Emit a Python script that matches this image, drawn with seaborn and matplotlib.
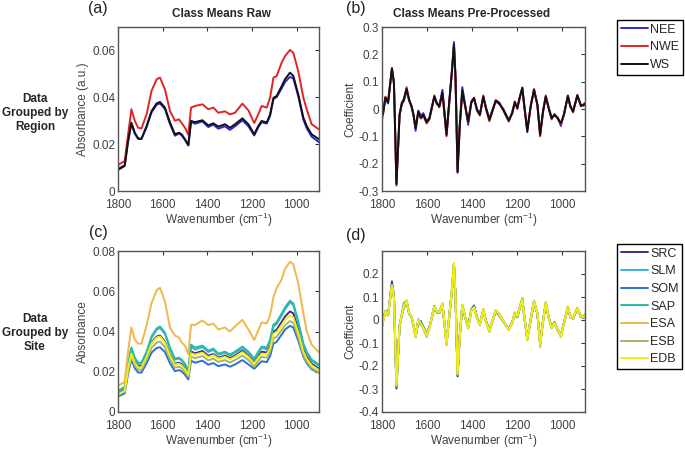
import matplotlib
matplotlib.use('Agg')
import matplotlib.pyplot as plt
import pandas as pd
import seaborn as sns

# ---- raw spectra (panels a, c) ----
wn_raw = [1800, 1770, 1755, 1740, 1725, 1710, 1695, 1672, 1650, 1627,
          1612, 1590, 1567, 1545, 1527, 1515, 1500, 1485, 1473, 1455,
          1422, 1396, 1373, 1351, 1321, 1299, 1276, 1243, 1216, 1190,
          1172, 1157, 1134, 1119, 1104, 1090, 1067, 1052, 1030, 1015,
          993, 970, 955, 933, 900]

raw_nee = [0.0095, 0.0110, 0.0210, 0.0288, 0.0245, 0.0222, 0.0222, 0.0272, 0.0335, 0.0368,
           0.0374, 0.0350, 0.0285, 0.0236, 0.0245, 0.0238, 0.0218, 0.0194, 0.0296, 0.0287,
           0.0297, 0.0273, 0.0283, 0.0266, 0.0276, 0.0261, 0.0276, 0.0302, 0.0276, 0.0237,
           0.0272, 0.0293, 0.0288, 0.0320, 0.0392, 0.0400, 0.0438, 0.0465, 0.0487, 0.0480,
           0.0405, 0.0305, 0.0268, 0.0232, 0.0208]
raw_nwe = [0.0111, 0.0128, 0.0240, 0.0349, 0.0300, 0.0270, 0.0267, 0.0327, 0.0427, 0.0477,
           0.0484, 0.0434, 0.0341, 0.0300, 0.0306, 0.0290, 0.0270, 0.0240, 0.0356, 0.0363,
           0.0370, 0.0349, 0.0356, 0.0334, 0.0340, 0.0327, 0.0334, 0.0373, 0.0344, 0.0290,
           0.0327, 0.0363, 0.0356, 0.0398, 0.0484, 0.0490, 0.0548, 0.0576, 0.0602, 0.0590,
           0.0512, 0.0398, 0.0349, 0.0285, 0.0263]
raw_ws = [0.0090, 0.0107, 0.0213, 0.0292, 0.0249, 0.0225, 0.0223, 0.0277, 0.0341, 0.0374,
          0.0380, 0.0356, 0.0292, 0.0242, 0.0249, 0.0242, 0.0221, 0.0196, 0.0299, 0.0294,
          0.0302, 0.0280, 0.0289, 0.0275, 0.0285, 0.0270, 0.0285, 0.0310, 0.0285, 0.0242,
          0.0277, 0.0299, 0.0292, 0.0327, 0.0398, 0.0405, 0.0448, 0.0477, 0.0505, 0.0491,
          0.0413, 0.0313, 0.0277, 0.0242, 0.0221]

raw_src = [0.0092, 0.0110, 0.0220, 0.0300, 0.0250, 0.0228, 0.0228, 0.0280, 0.0345, 0.0375,
           0.0380, 0.0350, 0.0285, 0.0240, 0.0245, 0.0238, 0.0218, 0.0190, 0.0300, 0.0292,
           0.0303, 0.0280, 0.0288, 0.0270, 0.0280, 0.0268, 0.0280, 0.0305, 0.0280, 0.0245,
           0.0278, 0.0300, 0.0295, 0.0328, 0.0400, 0.0408, 0.0448, 0.0475, 0.0500, 0.0490,
           0.0410, 0.0310, 0.0275, 0.0240, 0.0215]
raw_slm = [0.0098, 0.0118, 0.0235, 0.0315, 0.0265, 0.0240, 0.0240, 0.0295, 0.0368, 0.0408,
           0.0418, 0.0388, 0.0315, 0.0260, 0.0265, 0.0255, 0.0235, 0.0200, 0.0325, 0.0310,
           0.0322, 0.0298, 0.0308, 0.0284, 0.0294, 0.0280, 0.0294, 0.0318, 0.0294, 0.0260,
           0.0294, 0.0318, 0.0312, 0.0352, 0.0425, 0.0436, 0.0480, 0.0510, 0.0545, 0.0532,
           0.0442, 0.0335, 0.0295, 0.0255, 0.0230]
raw_som = [0.0078, 0.0092, 0.0190, 0.0262, 0.0218, 0.0196, 0.0196, 0.0242, 0.0295, 0.0318,
           0.0322, 0.0298, 0.0242, 0.0203, 0.0208, 0.0202, 0.0185, 0.0162, 0.0255, 0.0245,
           0.0255, 0.0235, 0.0243, 0.0228, 0.0236, 0.0225, 0.0236, 0.0258, 0.0236, 0.0215,
           0.0235, 0.0252, 0.0248, 0.0278, 0.0340, 0.0348, 0.0385, 0.0410, 0.0428, 0.0420,
           0.0355, 0.0275, 0.0243, 0.0212, 0.0195]
raw_sap = [0.0105, 0.0125, 0.0240, 0.0320, 0.0270, 0.0245, 0.0245, 0.0300, 0.0375, 0.0415,
           0.0425, 0.0395, 0.0320, 0.0265, 0.0270, 0.0260, 0.0240, 0.0205, 0.0335, 0.0320,
           0.0330, 0.0305, 0.0315, 0.0290, 0.0300, 0.0285, 0.0300, 0.0325, 0.0300, 0.0265,
           0.0300, 0.0325, 0.0320, 0.0360, 0.0435, 0.0445, 0.0490, 0.0520, 0.0553, 0.0540,
           0.0450, 0.0340, 0.0300, 0.0260, 0.0235]
raw_esa = [0.0131, 0.0150, 0.0300, 0.0420, 0.0360, 0.0340, 0.0340, 0.0430, 0.0540, 0.0605,
           0.0617, 0.0550, 0.0418, 0.0380, 0.0370, 0.0345, 0.0330, 0.0288, 0.0434, 0.0432,
           0.0455, 0.0432, 0.0439, 0.0410, 0.0420, 0.0400, 0.0425, 0.0458, 0.0410, 0.0358,
           0.0405, 0.0445, 0.0440, 0.0480, 0.0570, 0.0615, 0.0660, 0.0712, 0.0747, 0.0734,
           0.0640, 0.0490, 0.0402, 0.0335, 0.0296]
raw_esb = [0.0085, 0.0100, 0.0205, 0.0275, 0.0232, 0.0210, 0.0210, 0.0260, 0.0318, 0.0345,
           0.0350, 0.0322, 0.0262, 0.0220, 0.0225, 0.0218, 0.0200, 0.0175, 0.0275, 0.0268,
           0.0278, 0.0257, 0.0265, 0.0249, 0.0258, 0.0246, 0.0258, 0.0280, 0.0258, 0.0225,
           0.0254, 0.0274, 0.0270, 0.0300, 0.0366, 0.0373, 0.0408, 0.0432, 0.0452, 0.0443,
           0.0372, 0.0283, 0.0250, 0.0218, 0.0196]
raw_edb = [0.0088, 0.0105, 0.0215, 0.0290, 0.0245, 0.0222, 0.0222, 0.0275, 0.0340, 0.0370,
           0.0375, 0.0345, 0.0280, 0.0235, 0.0240, 0.0232, 0.0212, 0.0185, 0.0292, 0.0285,
           0.0295, 0.0273, 0.0282, 0.0265, 0.0274, 0.0262, 0.0274, 0.0298, 0.0274, 0.0240,
           0.0270, 0.0290, 0.0287, 0.0318, 0.0388, 0.0396, 0.0432, 0.0458, 0.0480, 0.0470,
           0.0395, 0.0300, 0.0265, 0.0232, 0.0208]

# ---- pre-processed spectra (panels b, d) ----
wn_pre = [1800, 1796, 1785, 1773, 1756, 1747, 1736, 1722, 1712, 1703,
          1691, 1680, 1669, 1661, 1651, 1639, 1628, 1617, 1602, 1590,
          1578, 1568, 1557, 1546, 1532, 1514, 1499, 1490, 1481, 1474,
          1465, 1455, 1444, 1432, 1418, 1404, 1392, 1379, 1366, 1351,
          1339, 1324, 1309, 1296, 1280, 1262, 1238, 1223, 1211, 1200,
          1190, 1178, 1168, 1156, 1141, 1126, 1111, 1099, 1086, 1074,
          1059, 1048, 1035, 1021, 1007, 993, 976, 965, 953, 934,
          918, 906, 900]

pre_nee = [-0.010, -0.018, 0.038, 0.020, 0.150, 0.097, -0.270, -0.022, 0.018, 0.030,
           0.070, 0.030, 0.012, -0.016, -0.080, -0.006, -0.025, -0.015, -0.045, -0.032,
           0.012, 0.043, 0.018, 0.012, 0.070, -0.090, 0.055, 0.142, 0.245, 0.118,
           -0.233, -0.052, 0.080, 0.018, -0.058, 0.022, 0.038, 0.000, -0.018, 0.043,
           0.006, -0.036, 0.000, 0.028, 0.018, 0.000, -0.040, -0.018, 0.022, 0.006,
           0.038, 0.079, 0.006, -0.085, 0.012, 0.068, 0.018, -0.090, -0.006, 0.043,
           0.000, -0.030, -0.024, -0.030, -0.062, -0.016, 0.045, 0.008, -0.008, 0.047,
           0.014, 0.012, 0.018]
pre_nwe = [-0.040, -0.022, 0.045, 0.028, 0.145, 0.090, -0.280, -0.018, 0.024, 0.038,
           0.080, 0.036, 0.006, -0.022, -0.065, -0.012, -0.035, -0.025, -0.053, -0.038,
           0.006, 0.050, 0.024, 0.006, 0.058, -0.100, 0.048, 0.135, 0.232, 0.110,
           -0.226, -0.062, 0.060, 0.012, -0.048, 0.028, 0.042, -0.006, -0.024, 0.050,
           0.000, -0.045, -0.006, 0.033, 0.024, -0.006, -0.046, -0.012, 0.028, 0.000,
           0.042, 0.075, 0.000, -0.076, 0.006, 0.073, 0.012, -0.100, -0.012, 0.050,
           -0.006, -0.038, -0.018, -0.036, -0.055, -0.022, 0.050, 0.012, -0.012, 0.052,
           0.010, 0.018, 0.022]
pre_ws = [-0.015, -0.020, 0.042, 0.025, 0.148, 0.095, -0.275, -0.020, 0.021, 0.034,
          0.074, 0.034, 0.009, -0.019, -0.070, -0.009, -0.032, -0.022, -0.048, -0.035,
          0.009, 0.046, 0.021, 0.009, 0.060, -0.095, 0.052, 0.138, 0.236, 0.113,
          -0.230, -0.058, 0.068, 0.015, -0.046, 0.025, 0.040, -0.003, -0.021, 0.046,
          0.003, -0.040, -0.003, 0.030, 0.021, -0.003, -0.043, -0.015, 0.025, 0.003,
          0.040, 0.077, 0.003, -0.080, 0.009, 0.071, 0.015, -0.095, -0.009, 0.046,
          -0.003, -0.034, -0.021, -0.034, -0.052, -0.019, 0.048, 0.010, -0.010, 0.050,
          0.012, 0.015, 0.020]

pre_src = [-0.030, -0.005, 0.035, 0.020, 0.168, 0.105, -0.298, -0.025, 0.020, 0.055,
           0.080, 0.028, 0.012, -0.022, -0.070, -0.010, -0.020, -0.030, -0.062, -0.030,
           0.012, 0.055, 0.033, 0.030, 0.068, -0.100, 0.040, 0.128, 0.240, 0.098,
           -0.245, -0.066, 0.062, 0.012, -0.030, 0.045, 0.063, 0.012, -0.016, 0.040,
           -0.003, -0.045, -0.002, 0.036, 0.020, -0.008, -0.038, -0.010, 0.026, 0.012,
           0.048, 0.086, 0.006, -0.080, -0.002, 0.076, 0.026, -0.100, -0.003, 0.070,
           0.004, -0.030, -0.010, -0.045, -0.066, -0.010, 0.052, 0.014, 0.006, 0.048,
           0.013, 0.010, 0.020]
pre_slm = [0.010, 0.000, 0.040, 0.025, 0.155, 0.098, -0.285, -0.024, 0.028, 0.075,
           0.082, 0.032, 0.014, -0.018, -0.070, 0.003, -0.013, -0.030, -0.064, -0.032,
           0.018, 0.062, 0.040, 0.035, 0.070, -0.102, 0.046, 0.128, 0.243, 0.098,
           -0.238, -0.068, 0.064, 0.018, -0.032, 0.043, 0.058, 0.011, -0.018, 0.046,
           -0.004, -0.047, 0.003, 0.042, 0.025, -0.004, -0.039, -0.011, 0.032, 0.018,
           0.054, 0.095, 0.011, -0.082, 0.003, 0.082, 0.032, -0.104, -0.004, 0.075,
           0.003, -0.032, -0.011, -0.039, -0.068, -0.011, 0.058, 0.018, 0.011, 0.053,
           0.018, 0.015, 0.025]
pre_som = [-0.028, -0.006, 0.036, 0.022, 0.158, 0.102, -0.290, -0.026, 0.022, 0.058,
           0.081, 0.029, 0.015, -0.021, -0.071, -0.005, -0.005, -0.028, -0.063, -0.031,
           0.014, 0.057, 0.035, 0.031, 0.070, -0.103, 0.042, 0.128, 0.242, 0.099,
           -0.240, -0.068, 0.064, 0.014, -0.031, 0.043, 0.062, 0.010, -0.018, 0.042,
           -0.005, -0.047, -0.001, 0.038, 0.021, -0.007, -0.040, -0.012, 0.028, 0.014,
           0.049, 0.088, 0.007, -0.082, -0.001, 0.078, 0.028, -0.103, -0.005, 0.071,
           0.002, -0.032, -0.012, -0.046, -0.068, -0.012, 0.054, 0.015, 0.007, 0.049,
           0.014, 0.011, 0.021]
pre_sap = [-0.020, -0.004, 0.038, 0.024, 0.152, 0.099, -0.283, -0.025, 0.024, 0.068,
           0.083, 0.031, 0.015, -0.019, -0.072, 0.002, -0.014, -0.032, -0.066, -0.033,
           0.017, 0.060, 0.038, 0.034, 0.072, -0.104, 0.045, 0.129, 0.245, 0.100,
           -0.237, -0.069, 0.065, 0.017, -0.033, 0.042, 0.056, 0.010, -0.019, 0.045,
           -0.005, -0.048, 0.002, 0.041, 0.024, -0.005, -0.040, -0.012, 0.031, 0.017,
           0.052, 0.093, 0.010, -0.083, 0.002, 0.081, 0.031, -0.105, -0.005, 0.074,
           0.002, -0.033, -0.012, -0.040, -0.069, -0.012, 0.057, 0.017, 0.010, 0.052,
           0.017, 0.014, 0.024]
pre_esa = [-0.036, -0.012, 0.036, 0.022, 0.148, 0.098, -0.288, -0.028, 0.022, 0.062,
           0.086, 0.030, 0.014, -0.024, -0.076, 0.000, -0.018, -0.037, -0.075, -0.037,
           0.014, 0.057, 0.035, 0.031, 0.071, -0.110, 0.042, 0.128, 0.244, 0.098,
           -0.236, -0.073, 0.064, 0.014, -0.037, 0.040, 0.053, 0.007, -0.024, 0.048,
           -0.009, -0.052, 0.000, 0.042, 0.026, -0.008, -0.044, -0.015, 0.034, 0.015,
           0.053, 0.092, 0.007, -0.088, 0.000, 0.084, 0.028, -0.118, -0.008, 0.078,
           0.000, -0.037, -0.015, -0.045, -0.074, -0.016, 0.058, 0.015, 0.007, 0.050,
           0.015, 0.012, 0.022]
pre_esb = [-0.032, -0.009, 0.036, 0.022, 0.149, 0.099, -0.282, -0.027, 0.023, 0.060,
           0.083, 0.030, 0.015, -0.021, -0.074, 0.000, -0.017, -0.035, -0.069, -0.035,
           0.015, 0.058, 0.036, 0.032, 0.072, -0.107, 0.043, 0.129, 0.246, 0.100,
           -0.236, -0.071, 0.065, 0.015, -0.035, 0.040, 0.054, 0.008, -0.021, 0.045,
           -0.007, -0.050, 0.000, 0.041, 0.024, -0.007, -0.042, -0.014, 0.031, 0.015,
           0.052, 0.091, 0.008, -0.086, 0.000, 0.081, 0.029, -0.108, -0.007, 0.074,
           0.000, -0.035, -0.014, -0.042, -0.071, -0.014, 0.057, 0.015, 0.008, 0.050,
           0.015, 0.012, 0.022]
pre_edb = [-0.034, -0.010, 0.037, 0.023, 0.150, 0.100, -0.280, -0.027, 0.023, 0.060,
           0.084, 0.030, 0.016, -0.020, -0.073, 0.001, -0.016, -0.034, -0.067, -0.034,
           0.016, 0.059, 0.037, 0.033, 0.073, -0.106, 0.044, 0.130, 0.247, 0.101,
           -0.235, -0.070, 0.066, 0.016, -0.034, 0.041, 0.055, 0.009, -0.020, 0.044,
           -0.006, -0.049, 0.001, 0.040, 0.023, -0.006, -0.041, -0.013, 0.030, 0.016,
           0.051, 0.090, 0.009, -0.084, 0.001, 0.080, 0.030, -0.106, -0.006, 0.073,
           0.001, -0.034, -0.013, -0.041, -0.070, -0.013, 0.056, 0.016, 0.009, 0.051,
           0.016, 0.013, 0.023]

regions = ['NEE', 'NWE', 'WS']
region_colors = ['#2b2bd8', '#e32424', '#111111']
sites = ['SRC', 'SLM', 'SOM', 'SAP', 'ESA', 'ESB', 'EDB']
site_colors = ['#3b2c8a', '#35b0e2', '#2b6fd6', '#2cb8a6', '#eeb84a', '#a4b66c', '#f4ee10']


def long_df(wn, names, series):
    parts = [pd.DataFrame({'wn': wn, 'val': s, 'cls': n}) for n, s in zip(names, series)]
    return pd.concat(parts, ignore_index=True)


df_a = long_df(wn_raw, regions, [raw_nee, raw_nwe, raw_ws])
df_b = long_df(wn_pre, regions, [pre_nee, pre_nwe, pre_ws])
df_c = long_df(wn_raw, sites, [raw_src, raw_slm, raw_som, raw_sap, raw_esa, raw_esb, raw_edb])
df_d = long_df(wn_pre, sites, [pre_src, pre_slm, pre_som, pre_sap, pre_esa, pre_esb, pre_edb])

sns.set_style('white')
plt.rcParams['font.family'] = ['Liberation Sans', 'DejaVu Sans']
plt.rcParams['mathtext.default'] = 'regular'
plt.rcParams['axes.unicode_minus'] = False

grey = '#404040'
fig = plt.figure(figsize=(6.85, 4.51), dpi=100)
W, H = 685, 451


def add_ax(x0, y0, x1, y1):
    return fig.add_axes([x0 / W, 1 - y1 / H, (x1 - x0) / W, (y1 - y0) / H])


ax_a = add_ax(118, 27, 319, 191)
ax_b = add_ax(382, 27, 585, 191)
ax_c = add_ax(118, 251, 319, 412)
ax_d = add_ax(382, 251, 585, 412)

panels = [(ax_a, df_a, regions, region_colors, 'Absorbance (a.u.)', (0, 0.07), [0, 0.02, 0.04, 0.06]),
          (ax_b, df_b, regions, region_colors, 'Coefficient', (-0.3, 0.3), [-0.3, -0.2, -0.1, 0, 0.1, 0.2, 0.3]),
          (ax_c, df_c, sites, site_colors, 'Absorbance', (0, 0.08), [0, 0.02, 0.04, 0.06, 0.08]),
          (ax_d, df_d, sites, site_colors, 'Coefficient', (-0.4, 0.3), [-0.4, -0.3, -0.2, -0.1, 0, 0.1, 0.2])]

for ax, df, names, cols, ylab, ylim, yt in panels:
    sns.lineplot(data=df, x='wn', y='val', hue='cls', hue_order=names, palette=cols,
                 estimator=None, sort=False, lw=1.4, ax=ax)
    for ln in ax.get_lines():
        ln.set_solid_joinstyle('round')
    ax.set_xlim(1800, 900)
    ax.set_ylim(*ylim)
    ax.set_xticks([1800, 1600, 1400, 1200, 1000])
    ax.set_yticks(yt)
    ax.set_yticklabels(['0' if v == 0 else f'{v:g}' for v in yt])
    ax.set_xlabel('Wavenumber (cm$^{-1}$)', fontsize=8.5, color=grey, labelpad=0)
    ax.set_ylabel(ylab, fontsize=8.5, color=grey, labelpad=2)
    ax.tick_params(direction='in', length=3, width=0.8, top=True, right=True,
                   labelsize=8.5, labelcolor=grey, color='#333333', pad=2)
    ax.tick_params(axis='x', pad=5.5)
    for sp in ax.spines.values():
        sp.set_color('#555555')
        sp.set_linewidth(1.0)
    ax.get_legend().remove()

for ax, names, anchor_y in [(ax_a, regions, 20), (ax_c, sites, 244)]:
    handles, labels = ax.get_legend_handles_labels()
    leg = fig.legend(handles, labels, loc='upper left',
                     bbox_to_anchor=(617 / W, 1 - anchor_y / H), bbox_transform=fig.transFigure,
                     fontsize=9, frameon=True, fancybox=False, framealpha=1, edgecolor='black',
                     handlelength=2.2, handletextpad=0.15, labelspacing=0.45, borderpad=0.3,
                     borderaxespad=0)
    leg.get_frame().set_linewidth(1.0)
    for line in leg.get_lines():
        line.set_linewidth(1.4)

fig.text(221 / W, 1 - 14 / H, 'Class Means Raw', ha='center', va='center', fontsize=8.5, fontweight='bold')
fig.text(472 / W, 1 - 14 / H, 'Class Means Pre-Processed', ha='center', va='center', fontsize=8.5, fontweight='bold')

for lbl, x, y in [('(a)', 98, 9), ('(b)', 356, 9), ('(c)', 98, 233), ('(d)', 356, 235)]:
    fig.text(x / W, 1 - y / H, lbl, ha='center', va='center', fontsize=11.5, color='#222222')

fig.text(35 / W, 1 - 113 / H, 'Data\nGrouped by\nRegion', ha='center', va='center',
         fontsize=8.5, fontweight='bold', linespacing=1.25)
fig.text(35 / W, 1 - 333 / H, 'Data\nGrouped by\nSite', ha='center', va='center',
         fontsize=8.5, fontweight='bold', linespacing=1.25)

fig.savefig('out.png', dpi=100)
